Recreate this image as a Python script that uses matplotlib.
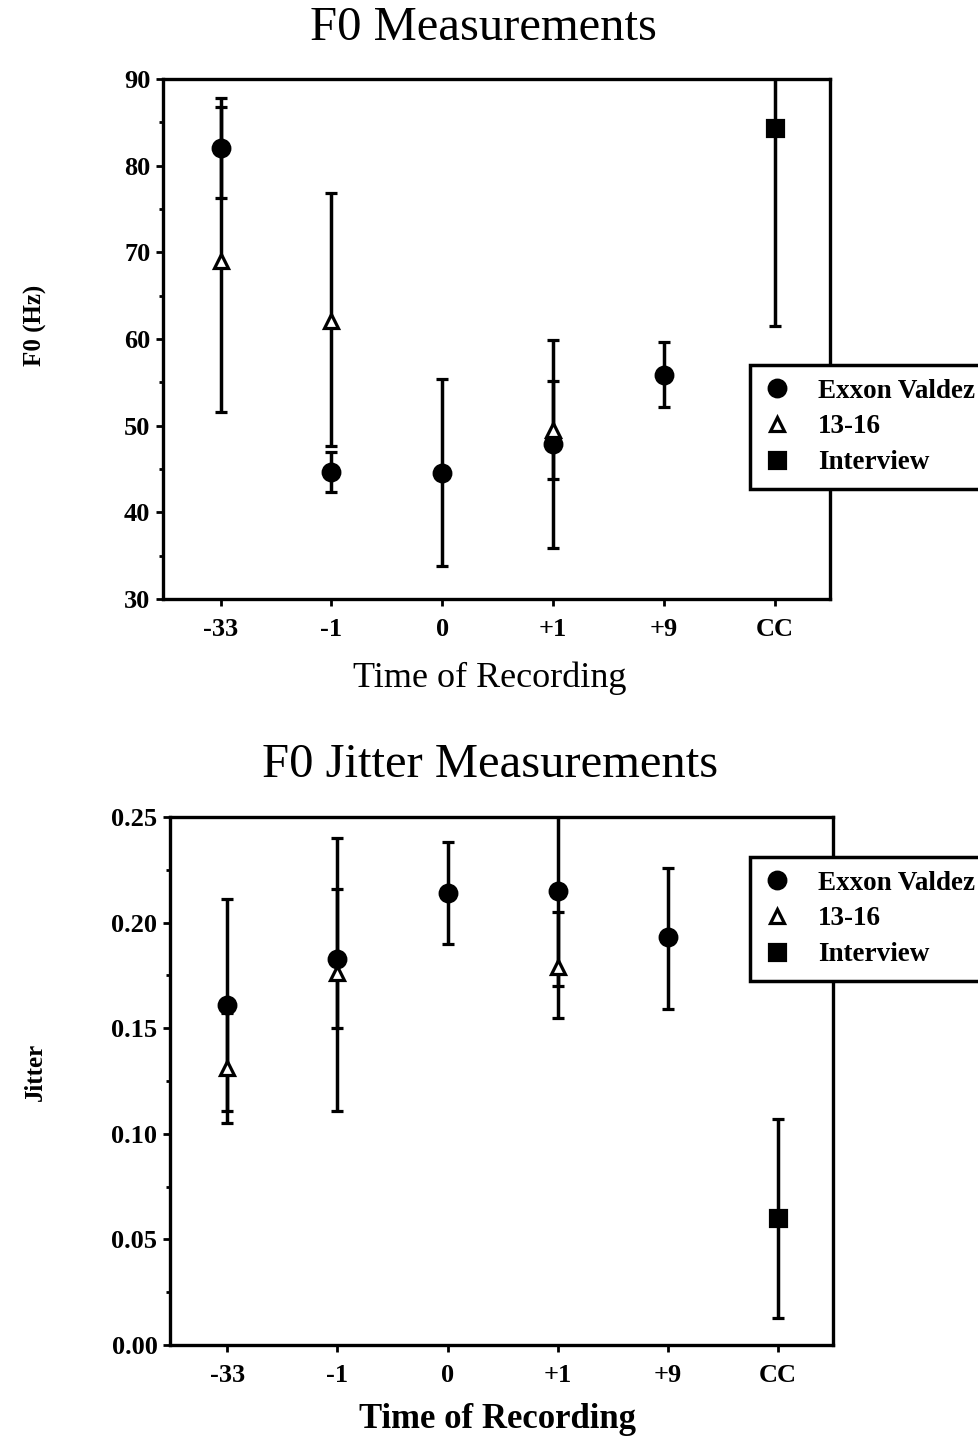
#!/usr/bin/env python3

import matplotlib
matplotlib.use('Agg')
import matplotlib.pyplot as plt
from matplotlib.lines import Line2D
import numpy as np

# categories along the x axis
times = ['-33', '-1', '0', '+1', '+9', 'CC']

# F0 (Hz): position index, mean, lower end, upper end
f0_exxon_x = [0, 1, 2, 3, 4]
f0_exxon = [82.0, 44.7, 44.5, 47.9, 55.8]
f0_exxon_lo = [76.3, 42.4, 33.8, 35.9, 52.1]
f0_exxon_hi = [87.8, 47.0, 55.4, 59.9, 59.6]

f0_teen_x = [0, 1, 3]
f0_teen = [69.0, 62.1, 49.5]
f0_teen_lo = [51.6, 47.6, 43.9]
f0_teen_hi = [86.8, 76.8, 55.1]

f0_interview_x = [5]
f0_interview = [84.3]
f0_interview_lo = [61.5]
f0_interview_hi = [107.0]

# Jitter
jit_exxon_x = [0, 1, 2, 3, 4]
jit_exxon = [0.161, 0.183, 0.214, 0.215, 0.193]
jit_exxon_lo = [0.111, 0.150, 0.190, 0.170, 0.159]
jit_exxon_hi = [0.211, 0.216, 0.238, 0.261, 0.226]

jit_teen_x = [0, 1, 3]
jit_teen = [0.131, 0.176, 0.179]
jit_teen_lo = [0.105, 0.111, 0.155]
jit_teen_hi = [0.157, 0.240, 0.205]

jit_interview_x = [5]
jit_interview = [0.060]
jit_interview_lo = [0.013]
jit_interview_hi = [0.107]

series_labels = ['Exxon Valdez', '13-16', 'Interview']
series_markers = ['o', '^', 's']
series_faces = ['black', 'white', 'black']
series_sizes = [12, 10.5, 11]

SERIF = ['Liberation Serif', 'DejaVu Serif']
plt.rcParams['font.family'] = SERIF


def draw_series(ax, x, y, lo, hi, k):
    y = np.array(y)
    err = [y - np.array(lo), np.array(hi) - y]
    ax.errorbar(x, y, yerr=err, fmt=series_markers[k], color='black',
                mfc=series_faces[k], mec='black', mew=2.3, ms=series_sizes[k],
                elinewidth=2.5, capsize=4.5, capthick=2.5)


def style_axes(ax, ylim, yticks, yminor, fmt):
    ax.set_xlim(-0.52, 5.5)
    ax.set_ylim(*ylim)
    ax.set_xticks(range(len(times)))
    ax.set_xticklabels(times)
    ax.set_yticks(yticks)
    ax.set_yticks(yminor, minor=True)
    ax.set_yticklabels([fmt.format(v) for v in yticks])
    for s in ax.spines.values():
        s.set_linewidth(2.4)
    ax.tick_params(axis='both', which='major', direction='out', length=5, width=2,
                   labelsize=19)
    ax.tick_params(axis='x', which='major', pad=9)
    ax.tick_params(axis='y', which='major', pad=4)
    ax.tick_params(axis='y', which='minor', direction='out', length=3, width=2)
    for lab in ax.get_xticklabels() + ax.get_yticklabels():
        lab.set_fontweight('bold')


def add_legend(fig, ax, top):
    handles = [Line2D([], [], linestyle='none', marker=series_markers[k], color='black',
                      mfc=series_faces[k], mec='black', mew=2.3, ms=series_sizes[k])
               for k in range(3)]
    leg = ax.legend(handles, series_labels, loc='upper left',
                    bbox_to_anchor=(750 / 979, 1 - top / 1443),
                    bbox_transform=fig.transFigure, borderaxespad=0, fancybox=False,
                    frameon=True, edgecolor='black', framealpha=1,
                    prop={'family': SERIF, 'size': 19.5, 'weight': 'bold'},
                    handlelength=1.0, handletextpad=1.0, labelspacing=0.4,
                    borderpad=0.5)
    leg.get_frame().set_linewidth(2.5)


def main():
    fig = plt.figure(figsize=(9.79, 14.43), dpi=100)

    # ---- top: F0 ----
    ax1 = fig.add_axes([163 / 979, 1 - 599 / 1443, 667 / 979, 520 / 1443])
    draw_series(ax1, f0_exxon_x, f0_exxon, f0_exxon_lo, f0_exxon_hi, 0)
    draw_series(ax1, f0_teen_x, f0_teen, f0_teen_lo, f0_teen_hi, 1)
    draw_series(ax1, f0_interview_x, f0_interview, f0_interview_lo, f0_interview_hi, 2)
    style_axes(ax1, (30, 90), np.arange(30, 91, 10), np.arange(35, 90, 10), '{:.0f}')

    # ---- bottom: jitter ----
    ax2 = fig.add_axes([170 / 979, 1 - 1345 / 1443, 663 / 979, 528 / 1443])
    draw_series(ax2, jit_exxon_x, jit_exxon, jit_exxon_lo, jit_exxon_hi, 0)
    draw_series(ax2, jit_teen_x, jit_teen, jit_teen_lo, jit_teen_hi, 1)
    draw_series(ax2, jit_interview_x, jit_interview, jit_interview_lo, jit_interview_hi, 2)
    style_axes(ax2, (0, 0.25), np.arange(0, 0.251, 0.05), np.arange(0.025, 0.25, 0.05), '{:.2f}')

    # titles and labels
    fig.text(483 / 979, 1 - 28 / 1443, 'F0 Measurements', ha='center', va='center', fontsize=35)
    fig.text(490 / 979, 1 - 765 / 1443, 'F0 Jitter Measurements', ha='center', va='center', fontsize=35)
    fig.text(490 / 979, 1 - 678 / 1443, 'Time of Recording', ha='center', va='center', fontsize=26)
    fig.text(498 / 979, 1 - 1420 / 1443, 'Time of Recording', ha='center', va='center',
             fontsize=25, fontweight='bold')
    fig.text(35 / 979, 1 - 325 / 1443, 'F0 (Hz)', ha='center', va='center', rotation=90,
             fontsize=18, fontweight='bold')
    fig.text(35 / 979, 1 - 1072 / 1443, 'Jitter', ha='center', va='center', rotation=90,
             fontsize=18, fontweight='bold')

    # legends sticking out past the right edge
    add_legend(fig, ax1, 365)
    add_legend(fig, ax2, 857)

    fig.savefig('out.png', dpi=100)


if __name__ == '__main__':
    main()
